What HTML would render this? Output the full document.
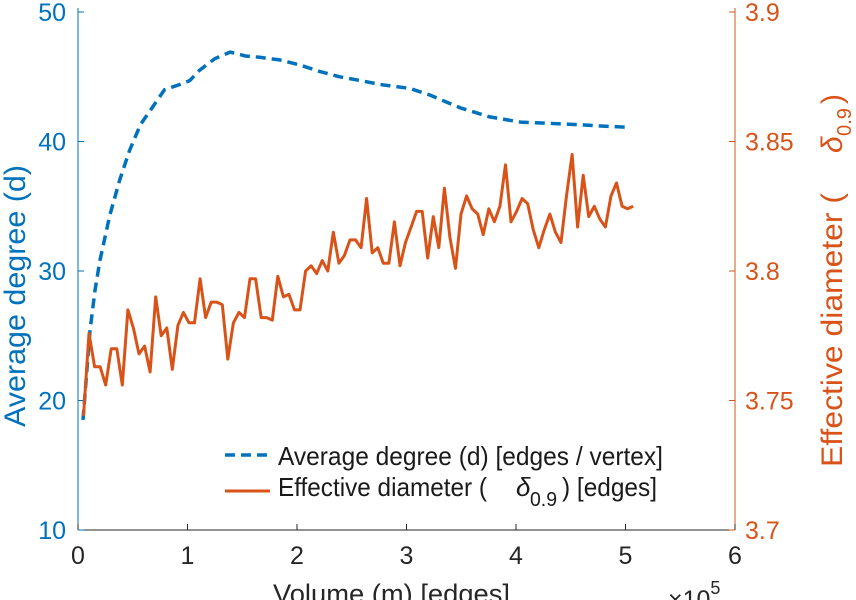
<!DOCTYPE html>
<html><head><meta charset="utf-8"><style>
body{margin:0;background:#fff;}
svg{display:block;font-family:"Liberation Sans",sans-serif;}
</style></head><body>
<svg id="c" width="856" height="600" viewBox="0 0 856 600"></svg>
<script>
const xTicks=[0,1,2,3,4,5,6];
const yLeftTicks=[10,20,30,40,50];
const yRightTicks=["3.7","3.75","3.8","3.85","3.9"];
const degX=[0.046,0.11,0.155,0.2,0.29,0.38,0.47,0.57,0.66,0.79,0.93,1.02,1.11,1.25,1.39,1.53,1.66,1.84,2.03,2.21,2.39,2.58,2.76,3.03,3.21,3.49,3.76,4.04,4.31,4.58,4.77,5.04];
const degY=[18.5,25.4,28.5,30.8,34.3,37.0,39.3,41.3,42.4,44.0,44.4,44.7,45.5,46.4,46.9,46.6,46.5,46.3,45.9,45.4,45.0,44.7,44.4,44.1,43.6,42.6,41.9,41.5,41.4,41.3,41.2,41.1];
const diamY=[3.744,3.776,3.763,3.763,3.756,3.770,3.770,3.756,3.785,3.778,3.768,3.771,3.761,3.790,3.775,3.778,3.762,3.779,3.784,3.780,3.780,3.797,3.782,3.788,3.788,3.787,3.766,3.780,3.784,3.782,3.797,3.797,3.782,3.782,3.781,3.798,3.790,3.791,3.785,3.785,3.800,3.802,3.799,3.804,3.800,3.815,3.803,3.806,3.812,3.812,3.809,3.828,3.807,3.809,3.803,3.803,3.819,3.802,3.811,3.817,3.823,3.823,3.805,3.821,3.809,3.832,3.813,3.801,3.822,3.829,3.824,3.822,3.814,3.824,3.819,3.825,3.841,3.819,3.823,3.828,3.826,3.816,3.809,3.816,3.822,3.815,3.811,3.829,3.845,3.817,3.837,3.821,3.825,3.820,3.817,3.829,3.834,3.825,3.824,3.825];
const diamXStart=0.05, diamXEnd=5.07;

const L=78,R=735,T=12,B=530;
const xs=v=>L+(v/6)*(R-L);
const yl=v=>B-(v-10)/40*(B-T);
const yr=v=>B-(v-3.7)/0.2*(B-T);
const NS="http://www.w3.org/2000/svg";
const svg=document.getElementById('c');
function mk(t,a,p){const e=document.createElementNS(NS,t);for(const k in a)e.setAttribute(k,a[k]);(p||svg).appendChild(e);return e;}
const BLUE="#0072BD",OR="#D95319";

let e=mk('line',{x1:L,y1:B,x2:R,y2:B,stroke:'#262626','stroke-width':1});


e=mk('line',{x1:L,y1:T-4,x2:L,y2:B,stroke:BLUE,'stroke-width':1});


e=mk('line',{x1:R,y1:T-4,x2:R,y2:B,stroke:OR,'stroke-width':1});



xTicks.forEach(v=>{
  mk('line',{x1:xs(v),y1:B,x2:xs(v),y2:B-6,stroke:'#262626'});
  const t=mk('text',{x:xs(v),y:B+34,'text-anchor':'middle','font-size':25,fill:'#262626'});
  t.textContent=v;
  
  
});
yLeftTicks.forEach(v=>{
  mk('line',{x1:L,y1:yl(v),x2:L+6,y2:yl(v),stroke:BLUE});
  const t=mk('text',{x:L-12,y:yl(v)+9,'text-anchor':'end','font-size':25,fill:BLUE});
  t.textContent=v;
  
  
});
yRightTicks.forEach(s=>{
  const v=parseFloat(s);
  mk('line',{x1:R,y1:yr(v),x2:R-6,y2:yr(v),stroke:OR});
  const t=mk('text',{x:R+10,y:yr(v)+9,'font-size':25,fill:OR});
  t.textContent=s;
  
  
});

let d=degX.map((x,i)=>(i?'L':'M')+xs(x).toFixed(1)+' '+yl(degY[i]).toFixed(1)).join(' ');
e=mk('path',{d:d,fill:'none',stroke:BLUE,'stroke-width':3.5,'stroke-dasharray':'10 6'});


const n=diamY.length,step=(diamXEnd-diamXStart)/(n-1);
d=diamY.map((y,i)=>(i?'L':'M')+xs(diamXStart+i*step).toFixed(1)+' '+yr(y).toFixed(1)).join(' ');
e=mk('path',{d:d,fill:'none',stroke:OR,'stroke-width':3,'stroke-linejoin':'round'});



// legend
e=mk('line',{x1:225,y1:455,x2:270,y2:455,stroke:BLUE,'stroke-width':3.5,'stroke-dasharray':'10 6'});


e=mk('text',{x:278,y:465,'font-size':26,fill:'#1a1a1a',textLength:385,lengthAdjust:'spacingAndGlyphs'});
e.textContent='Average degree (d) [edges / vertex]';


e=mk('line',{x1:225,y1:491,x2:270,y2:491,stroke:OR,'stroke-width':3});


const lg=mk('g',{fill:'#1a1a1a'});


e=mk('text',{x:278,y:496,'font-size':26,textLength:209,lengthAdjust:'spacingAndGlyphs'},lg);
e.textContent='Effective diameter (';
e=mk('text',{x:516,y:496,'font-size':26,'font-style':'italic'},lg);
e.textContent='δ';
e=mk('text',{x:530,y:506,'font-size':20,textLength:27,lengthAdjust:'spacingAndGlyphs'},lg);
e.textContent='0.9';
e=mk('text',{x:562,y:496,'font-size':26,textLength:95,lengthAdjust:'spacingAndGlyphs'},lg);
e.textContent=') [edges]';

// axis titles
e=mk('text',{x:273,y:603,'font-size':27,fill:'#262626',textLength:237,lengthAdjust:'spacingAndGlyphs'});
e.textContent='Volume (m) [edges]';


e=mk('text',{x:668,y:608,'font-size':25,fill:'#262626'});
e.innerHTML='×10<tspan font-size="18" dy="-14">5</tspan>';


e=mk('text',{x:0,y:0,'font-size':30,fill:BLUE,transform:'translate(25 427) rotate(-90)',textLength:262,lengthAdjust:'spacingAndGlyphs'});
e.textContent='Average degree (d)';


const rg=mk('g',{fill:OR,transform:'translate(842 467) rotate(-90)'});


e=mk('text',{x:0,y:0,'font-size':30,textLength:274,lengthAdjust:'spacingAndGlyphs'},rg);
e.textContent='Effective diameter (';
e=mk('text',{x:314,y:0,'font-size':30,'font-style':'italic'},rg);
e.textContent='δ';
e=mk('text',{x:331,y:9,'font-size':20,textLength:28,lengthAdjust:'spacingAndGlyphs'},rg);
e.textContent='0.9';
e=mk('text',{x:363,y:0,'font-size':30},rg);
e.textContent=')';
</script>
</body></html>
